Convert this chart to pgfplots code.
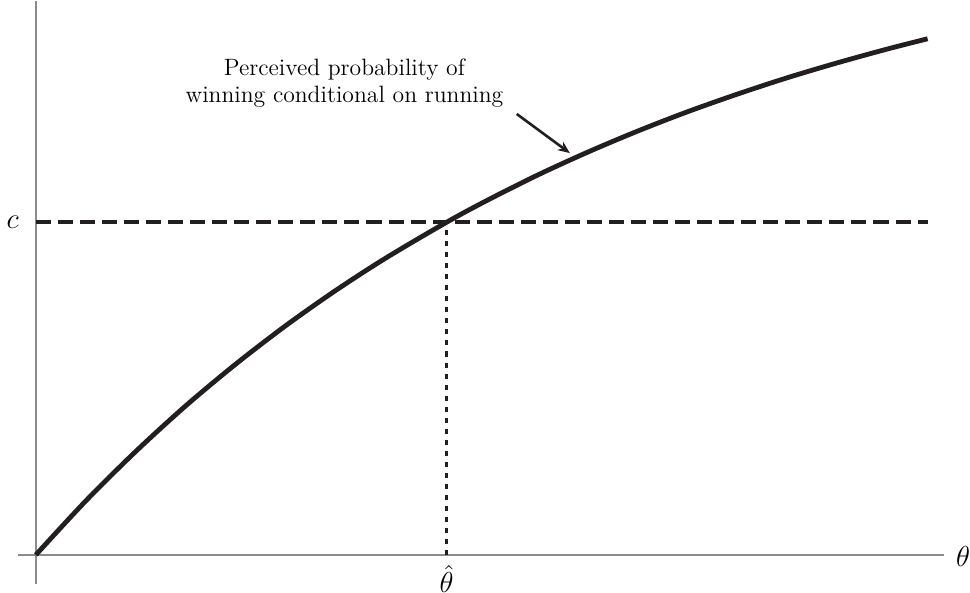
\documentclass[border=0pt]{standalone}
\usepackage{pgfplots}
\pgfplotsset{compat=1.18}
\usetikzlibrary{arrows.meta}
\definecolor{curve}{HTML}{231F20}
\definecolor{axgray}{HTML}{8C8C8C}
\begin{document}
\begin{tikzpicture}
\begin{axis}[
  scale only axis, width=462pt, height=291pt,
  xmin=-18, xmax=906, ymin=-29, ymax=553,
  axis lines=none, clip=false,
]
\draw[axgray, line width=0.8pt] (axis cs:-18,0) -- (axis cs:906,0);
\draw[axgray, line width=0.8pt] (axis cs:0,-29) -- (axis cs:0,553);
\addplot[curve, line width=2.4pt, smooth] coordinates {
(0,0) (50,54.0) (100,103.5) (150,149.1) (200,190.8) (250,229.2) (300,264.4)
(350,296.7) (410,332.0) (450,353.6) (500,378.7) (550,401.6) (600,422.7)
(650,442.1) (700,459.8) (750,476.2) (800,491.1) (850,504.9) (890,515.1)};
\addplot[curve, line width=2pt, dash pattern=on 7.5pt off 3.5pt] coordinates {(0,332) (890,332)};
\addplot[curve, line width=1.7pt, dash pattern=on 2.5pt off 3pt] coordinates {(410,0) (410,332)};
\node[font=\fontsize{14}{16}\selectfont] at (axis cs:-23,332) {$c$};
\node[anchor=west, inner sep=0pt, font=\fontsize{14}{16}\selectfont] at (axis cs:918,-2) {$\theta$};
\node[anchor=north, inner sep=0pt, font=\fontsize{14}{16}\selectfont] at (axis cs:410,-10) {$\hat{\theta}$};
\node[align=center, font=\fontsize{11.8}{13.5}\selectfont] at (axis cs:308,471) {Perceived probability of\\winning conditional on running};
\draw[curve, line width=1.3pt, -{Stealth[length=6pt,width=5pt]}] (axis cs:480,440) -- (axis cs:533,401);
\end{axis}
\end{tikzpicture}
\end{document}
